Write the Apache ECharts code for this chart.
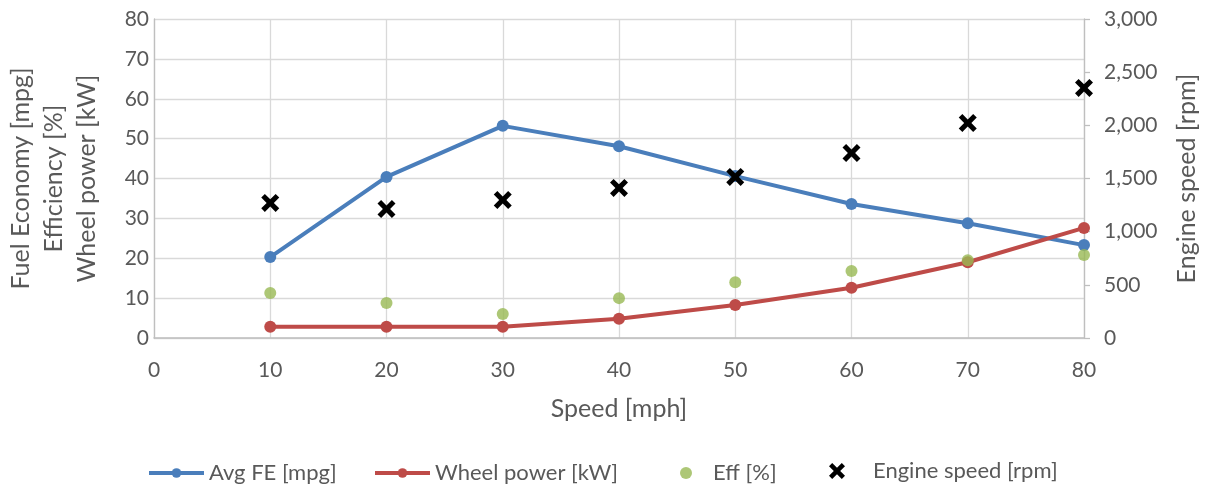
<!DOCTYPE html>
<html>
<head>
<meta charset="utf-8">
<script src="https://cdn.jsdelivr.net/npm/echarts@6/dist/echarts.min.js"></script>
<style>
  html, body { margin: 0; padding: 0; background: #fff; }
  #chart { width: 1208px; height: 493px; }
</style>
</head>
<body>
<div id="chart"></div>
<script>
// Vehicle road-load sweep: speed vs fuel economy, wheel power, efficiency, engine speed
const speeds = [10, 20, 30, 40, 50, 60, 70, 80];
const avgFE = [20.3, 40.4, 53.2, 48.1, 40.6, 33.6, 28.8, 23.3];
const wheelPower = [2.8, 2.8, 2.8, 4.8, 8.3, 12.6, 19.0, 27.6];
const eff = [11.3, 8.8, 6.0, 10.0, 14.0, 16.8, 19.5, 20.8];
const engineSpeed = [1270, 1213, 1298, 1411, 1515, 1740, 2022, 2352];

const seriesNames = ['Avg FE [mpg]', 'Wheel power [kW]', 'Eff [%]', 'Engine speed [rpm]'];
const leftAxisTitle = 'Fuel Economy [mpg]\nEfficiency [%]\nWheel power [kW]';
const rightAxisTitle = 'Engine speed [rpm]';
const xAxisTitle = 'Speed [mph]';

const pair = (xs, ys) => xs.map((x, i) => [x, ys[i]]);

const FONT = 'Lato';
const GREY = '#595959';
// bold "x" marker
const crossPath = 'path://M0,4 L4,0 L10,6 L16,0 L20,4 L14,10 L20,16 L16,20 L10,14 L4,20 L0,16 L6,10 Z';

const chart = echarts.init(document.getElementById('chart'));

const legendBase = {
  top: 457,
  itemGap: 0,
  itemHeight: 12,
  lineStyle: { width: 4 },
  textStyle: { color: GREY, fontFamily: FONT, fontSize: 22 },
  selectedMode: false
};

chart.setOption({
  animation: false,
  textStyle: { fontFamily: FONT },
  grid: { left: 154, right: 124, top: 19, bottom: 155, containLabel: false, outerBoundsMode: 'none' },
  legend: [
    Object.assign({}, legendBase, { left: 142, itemWidth: 55, data: [seriesNames[0]] }),
    Object.assign({}, legendBase, { left: 368, itemWidth: 55, data: [seriesNames[1]] }),
    Object.assign({}, legendBase, { left: 675, itemWidth: 44, data: [seriesNames[2]] }),
    Object.assign({}, legendBase, { left: 824, top: 455, itemWidth: 62, itemHeight: 16, data: [{ name: seriesNames[3], icon: crossPath }] })
  ],
  xAxis: {
    type: 'value',
    min: 0, max: 80, interval: 10,
    name: xAxisTitle,
    nameLocation: 'middle',
    nameGap: 58,
    nameTextStyle: { color: GREY, fontSize: 25, fontFamily: FONT },
    axisLine: { show: true, lineStyle: { color: '#bfbfbf', width: 1.5 } },
    axisTick: { show: false },
    axisLabel: { color: GREY, fontSize: 21, fontFamily: FONT, margin: 22 },
    splitLine: { show: true, lineStyle: { color: '#d9d9d9', width: 1.3 } }
  },
  yAxis: [
    {
      type: 'value',
      min: 0, max: 80, interval: 10,
      name: leftAxisTitle,
      nameLocation: 'middle',
      nameGap: 51,
      nameRotate: 90,
      nameTextStyle: { color: GREY, fontSize: 25, fontFamily: FONT, lineHeight: 33, align: 'center' },
      axisLine: { show: true, lineStyle: { color: '#bfbfbf', width: 1.3 } },
      axisTick: { show: false },
      axisLabel: { color: GREY, fontSize: 21, fontFamily: FONT, margin: 5 },
      splitLine: { show: true, lineStyle: { color: '#d9d9d9', width: 1.3 } }
    },
    {
      type: 'value',
      position: 'right',
      min: 0, max: 3000, interval: 500,
      name: rightAxisTitle,
      nameLocation: 'middle',
      nameGap: 90,
      nameRotate: 90,
      nameTextStyle: { color: GREY, fontSize: 25, fontFamily: FONT },
      axisLine: { show: true, lineStyle: { color: '#bfbfbf', width: 1.3 } },
      axisTick: { show: true, inside: false, length: 6, lineStyle: { color: '#bfbfbf', width: 1.3 } },
      axisLabel: {
        color: GREY, fontSize: 21, fontFamily: FONT, margin: 20,
        formatter: v => v.toLocaleString('en-US')
      },
      splitLine: { show: false }
    }
  ],
  series: [
    {
      name: seriesNames[0],
      type: 'line',
      data: pair(speeds, avgFE),
      symbol: 'circle',
      symbolSize: 12,
      itemStyle: { color: '#4a7ebb' },
      lineStyle: { color: '#4a7ebb', width: 4 },
      z: 3
    },
    {
      name: seriesNames[1],
      type: 'line',
      data: pair(speeds, wheelPower),
      symbol: 'circle',
      symbolSize: 12,
      itemStyle: { color: '#be4b48' },
      lineStyle: { color: '#be4b48', width: 4 },
      z: 3
    },
    {
      name: seriesNames[2],
      type: 'scatter',
      data: pair(speeds, eff),
      symbol: 'circle',
      symbolSize: 12,
      itemStyle: { color: '#98b954' },
      z: 4
    },
    {
      name: seriesNames[3],
      type: 'scatter',
      yAxisIndex: 1,
      data: pair(speeds, engineSpeed),
      symbol: crossPath,
      symbolSize: 18,
      itemStyle: { color: '#000000', opacity: 1 },
      z: 5
    }
  ]
});
</script>
</body>
</html>
